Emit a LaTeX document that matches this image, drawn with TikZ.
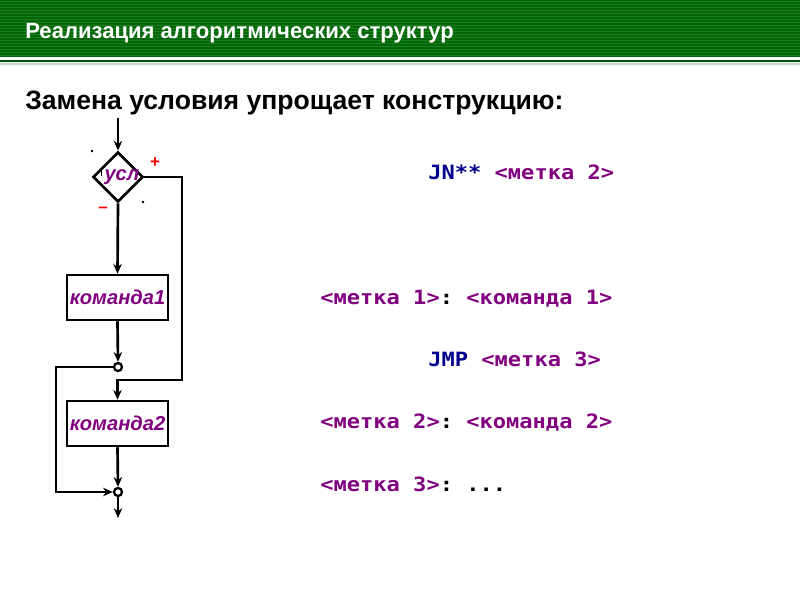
\documentclass[tikz,border=0pt]{standalone}
\usepackage{fontspec}
\setmainfont{Liberation Sans}
\newfontfamily\codefont{DejaVu Sans Mono}
\usetikzlibrary{arrows.meta,shapes.geometric}
\definecolor{hdrgreen}{RGB}{6,100,10}
\definecolor{hdrstripe}{RGB}{22,128,26}
\definecolor{lblpurple}{RGB}{128,0,128}
\definecolor{kwnavy}{RGB}{0,0,140}
\frenchspacing

\begin{document}
\begin{tikzpicture}[x=0.025cm,y=-0.025cm,
    >={Stealth[length=7pt,width=6pt]},
    flow/.style={line width=1.9pt},
    cond/.style={diamond,draw,line width=1.9pt,minimum width=1.25cm,minimum height=1.25cm,inner sep=0pt,aspect=1},
    cmdbox/.style={rectangle,draw,line width=1.9pt,minimum width=2.53cm,minimum height=1.12cm,inner sep=0pt},
    junc/.style={circle,draw,line width=1.6pt,minimum size=0.2cm,inner sep=0pt,fill=white},
    lbl/.style={text=lblpurple,font=\fontsize{14.3}{16}\selectfont\bfseries\itshape},
    code/.style={anchor=base west,inner sep=0pt,xscale=1.12,font=\codefont\fontsize{14}{16}\selectfont\bfseries}]
\useasboundingbox (0,0) rectangle (800,600);

% header band
\fill[hdrgreen] (0,0) rectangle (800,57);
\foreach \y in {1.5,4.5,...,57}
    \draw[hdrstripe,line width=0.9pt] (0,\y) -- (800,\y);
\draw[hdrgreen!80!black,line width=1.6pt] (0,61) -- (800,61);
\draw[hdrgreen!25,line width=1pt] (0,64) -- (800,64);
\node[anchor=base west,inner sep=0pt,text=white,font=\fontsize{15.7}{18}\selectfont\bfseries] (title) at (25,38) {Реализация алгоритмических структур};
\node[anchor=base west,inner sep=0pt,font=\fontsize{18.9}{22}\selectfont\bfseries] (subtitle) at (25,109) {Замена условия упрощает конструкцию:};

% flowchart
\coordinate (start) at (118,118);
\node[cond] (usl) at (118,177) {};
\node[lbl] (usltext) at (122,177) {усл};
\node[cmdbox] (cmd1) at (117.5,297.5) {};
\node[lbl] at (cmd1) {команда1};
\node[junc] (j1) at (118,367) {};
\coordinate (yes) at (182,380);
\node[cmdbox] (cmd2) at (117.5,423.5) {};
\node[lbl] at (cmd2) {команда2};
\coordinate (loop) at (56,492);
\node[junc] (j2) at (118,492) {};
\coordinate (finish) at (118,518);

\node[text=red,font=\bfseries\large] (plus) at (155,163) {+};
\node[text=red,font=\bfseries\large] (minus) at (103,210) {\textendash};
\fill (92,151) circle (1pt);
\fill (143,202) circle (1pt);
\draw[line width=1.4pt] (101.5,170) -- (101.5,175.5);

\draw[flow,->] (start) -- (usl.north);
\draw[flow,->] (usl.south) -- (cmd1.north);
\draw[flow,->] (cmd1.south) -- (j1.north);
\draw[flow,->] (usl.east) -| (yes) -| (cmd2.north);
\draw[flow,->] (j1.west) -| (loop) -- (j2.west);
\draw[flow,->] (cmd2.south) -- (j2.north);
\draw[flow,->] (j2.south) -- (finish);

% assembler code
\node[code] (jn) at (428,179) {\textcolor{kwnavy}{JN**} \textcolor{lblpurple}{<метка 2>}};
\node[code] (m1) at (320,304) {\textcolor{lblpurple}{<метка 1>}: \textcolor{lblpurple}{<команда 1>}};
\node[code] (jmp) at (428,366) {\textcolor{kwnavy}{JMP} \textcolor{lblpurple}{<метка 3>}};
\node[code] (m2) at (320,428) {\textcolor{lblpurple}{<метка 2>}: \textcolor{lblpurple}{<команда 2>}};
\node[code] (m3) at (320,491) {\textcolor{lblpurple}{<метка 3>}: ...};
\end{tikzpicture}
\end{document}
